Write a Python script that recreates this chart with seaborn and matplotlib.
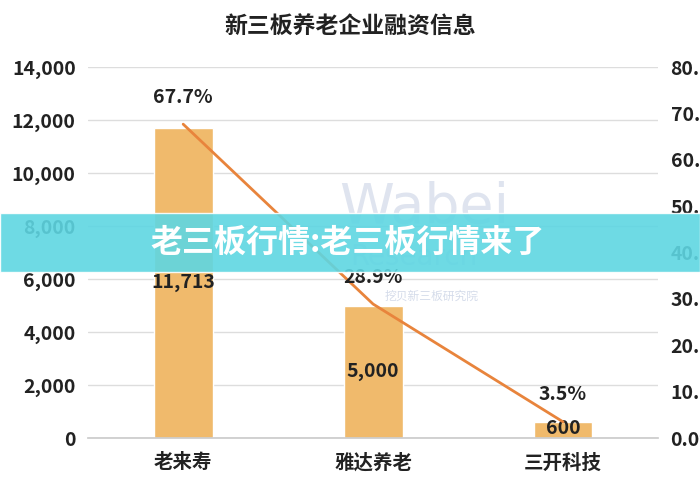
import numpy as np
import pandas as pd
import seaborn as sns
import matplotlib.pyplot as plt
from matplotlib.patches import Rectangle

companies = ["老来寿", "雅达养老", "三开科技"]
amounts = [11713, 5000, 600]
shares = [67.7, 28.9, 3.5]
left_ticks = [0, 2000, 4000, 6000, 8000, 10000, 12000, 14000]
right_ticks = [0, 10, 20, 30, 40, 50, 60, 70, 80]

sns.set_theme(style="white")
plt.rcParams['font.family'] = ['Noto Sans CJK SC', 'DejaVu Sans']

df = pd.DataFrame({"company": companies, "amount": amounts, "share": shares})

fig = plt.figure(figsize=(7, 4.9), dpi=100)
ax = fig.add_axes([0.126, 0.106, 0.814, 0.757])

sns.barplot(data=df, x="company", y="amount", color="#F0BA6C", saturation=1,
            width=0.31, ax=ax, zorder=2)
ax.set_ylim(0, 14000)
ax.set_xlim(-0.5, 2.5)
ax.set_yticks(left_ticks)
ax.set_yticklabels([f"{v:,}" for v in left_ticks], fontsize=14, fontweight="bold", color="#222222")
ax.tick_params(axis="x", labelsize=14, colors="#222222", pad=11)
for lab in ax.get_xticklabels():
    lab.set_fontweight("bold")
ax.tick_params(axis="y", pad=9, length=0)
ax.set_xlabel("")
ax.set_ylabel("")
ax.set_axisbelow(True)
ax.grid(axis="y", color="#DDDDDD", linewidth=1)
for s in ["top", "right", "left"]:
    ax.spines[s].set_visible(False)
ax.spines["bottom"].set_color("#CCCCCC")
ax.tick_params(axis="x", length=0)

for i, v in enumerate(amounts):
    ax.text(i, v / 2 if v > 2000 else v / 2 + 60, f"{v:,}", ha="center", va="center",
            fontsize=14, fontweight="bold", color="#222222", zorder=5)

ax2 = ax.twinx()
sns.lineplot(x=np.arange(len(companies)), y=shares, color="#E8843C", linewidth=2, ax=ax2, zorder=3)
ax2.set_ylim(0, 80)
ax2.set_yticks(right_ticks)
ax2.set_yticklabels([f"{v:.1f}%" for v in right_ticks], fontsize=14, fontweight="bold", color="#222222")
ax2.tick_params(axis="y", pad=9, length=0)
for s in ["top", "right", "left", "bottom"]:
    ax2.spines[s].set_visible(False)
ax2.set_ylabel("")
for i, v in enumerate(shares):
    ax2.text(i, v + 5.8, f"{v}%", ha="center", va="center", fontsize=14,
             fontweight="bold", color="#222222")

fig.text(0.5, 0.945, "新三板养老企业融资信息", ha="center", va="center",
         fontsize=16.5, fontweight="bold", color="#222222")

# watermark
fig.text(0.485, 0.575, "Wabei", ha="left", va="center", fontsize=40,
         color="#B8C4DC", alpha=0.45, family="DejaVu Sans")
fig.text(0.5, 0.475, "Research", ha="left", va="center", fontsize=20,
         color="#B8C4DC", alpha=0.45, family="DejaVu Sans")
fig.text(0.55, 0.395, "挖贝新三板研究院", ha="left", va="center", fontsize=8.5,
         color="#B8C4DC", alpha=0.6)

# banner
fig.patches.append(Rectangle((0, 1 - 272 / 490), 1, 59 / 490, transform=fig.transFigure,
                             facecolor="#5ED6E2", alpha=0.9, zorder=10))
fig.text(0.497, 1 - 243 / 490, "老三板行情:老三板行情来了", ha="center", va="center",
         fontsize=23, fontweight="bold", color="white", zorder=11)

fig.savefig("out.png", dpi=100)
